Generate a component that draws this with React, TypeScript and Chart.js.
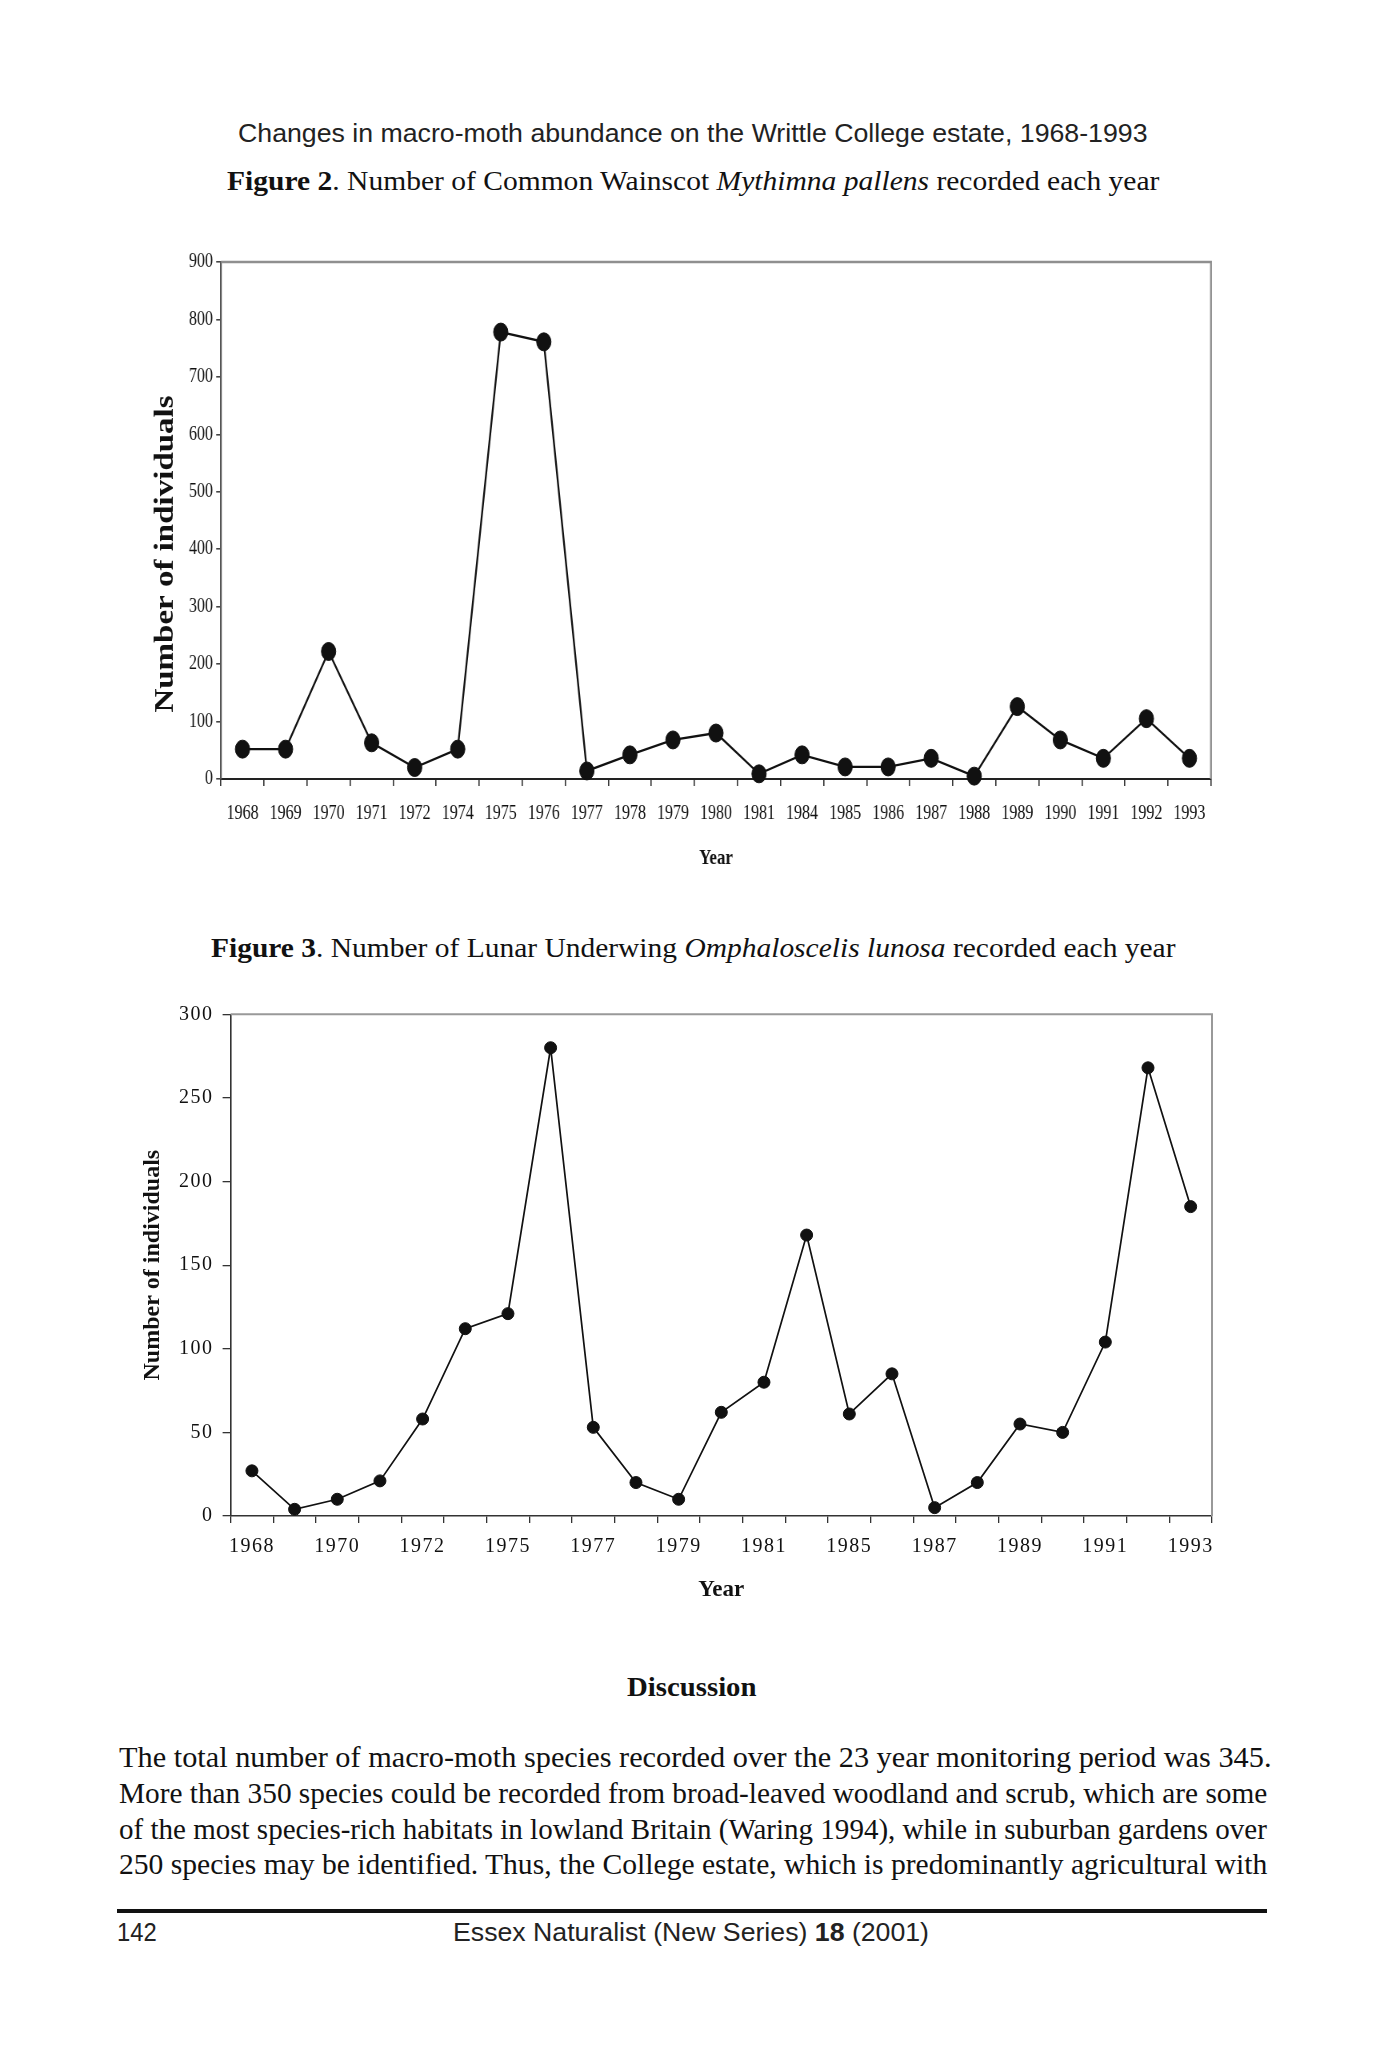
import React, { useEffect, useLayoutEffect, useRef, useState } from 'react';
import { Chart, registerables } from 'chart.js';

Chart.register(...registerables);

// ---------- data ----------
const fig2Years = ['1968', '1969', '1970', '1971', '1972', '1974', '1975', '1976', '1977', '1978', '1979', '1980', '1981', '1984', '1985', '1986', '1987', '1988', '1989', '1990', '1991', '1992', '1993'];
const fig2Counts = [52, 52, 222, 63, 20, 52, 778, 761, 14, 42, 68, 80, 9, 42, 21, 21, 36, 5, 126, 68, 36, 105, 36];
const fig2YMin = 0;
const fig2YMax = 900;
const fig2YStep = 100;

const fig3Years = ['1968', '1969', '1970', '1971', '1972', '1974', '1975', '1976', '1977', '1978', '1979', '1980', '1981', '1984', '1985', '1986', '1987', '1988', '1989', '1990', '1991', '1992', '1993'];
const fig3Counts = [27, 4, 10, 21, 58, 112, 121, 280, 53, 20, 10, 62, 80, 168, 61, 85, 5, 20, 55, 50, 104, 268, 185];
const fig3ShownYears = ['1968', '1970', '1972', '1975', '1977', '1979', '1981', '1985', '1987', '1989', '1991', '1993'];
const fig3YMin = 0;
const fig3YMax = 300;
const fig3YStep = 50;

const paragraphLines = [
  'The total number of macro-moth species recorded over the 23 year monitoring period was 345.',
  'More than 350 species could be recorded from broad-leaved woodland and scrub, which are some',
  'of the most species-rich habitats in lowland Britain (Waring 1994), while in suburban gardens over',
  '250 species may be identified. Thus, the College estate, which is predominantly agricultural with',
];

const SERIF = '"Liberation Serif", "Times New Roman", serif';
const SANS = '"Liberation Sans", Arial, sans-serif';

// ---------- plugins ----------
const framePlugin = {
  id: 'frame',
  beforeDatasetsDraw(chart: any, _args: any, opts: any) {
    const { ctx, chartArea } = chart;
    const { left, top, right, bottom } = chartArea;
    ctx.save();
    ctx.strokeStyle = opts.color || '#999';
    ctx.lineWidth = opts.width || 2;
    ctx.beginPath();
    ctx.moveTo(left, top);
    ctx.lineTo(right, top);
    ctx.lineTo(right, bottom);
    ctx.stroke();
    ctx.restore();
  },
};

const vTitlePlugin = {
  id: 'vtitle',
  afterDraw(chart: any, _args: any, opts: any) {
    if (!opts || !opts.text) return;
    const ctx = chart.ctx;
    ctx.save();
    ctx.translate(opts.x, opts.y);
    ctx.rotate(-Math.PI / 2);
    ctx.font = opts.font;
    ctx.fillStyle = opts.color || '#111';
    ctx.textAlign = 'center';
    ctx.textBaseline = 'middle';
    ctx.fillText(opts.text, 0, 0);
    ctx.restore();
  },
};

const spacingPlugin = {
  id: 'spacing',
  beforeDraw(chart: any) {
    (chart.ctx as any).letterSpacing = '0px';
  },
  afterDatasetsDraw(chart: any, _args: any, opts: any) {
    (chart.ctx as any).letterSpacing = (opts && opts.value) || '0px';
  },
  afterDraw(chart: any) {
    (chart.ctx as any).letterSpacing = '0px';
  },
};

// ---------- chart configs ----------
function fig2Config(): any {
  return {
    type: 'line',
    data: {
      labels: fig2Years,
      datasets: [
        {
          data: fig2Counts,
          borderColor: '#111',
          backgroundColor: '#111',
          borderWidth: 2.3,
          pointRadius: 9,
          pointBorderWidth: 1,
          pointBackgroundColor: '#111',
          pointBorderColor: '#111',
          tension: 0,
          clip: false,
        },
      ],
    },
    options: {
      responsive: false,
      animation: false,
      devicePixelRatio: 1,
      layout: { padding: { left: 0, top: 32, right: 31.25, bottom: 0 } },
      plugins: {
        legend: { display: false },
        tooltip: { enabled: false },
        frame: { color: '#8f8f8f', width: 2.4 },
        vtitle: { text: 'Number of individuals', x: 82.5, y: 324, font: `bold 33px ${SERIF}`, color: '#111' },
      },
      scales: {
        x: {
          type: 'category',
          offset: true,
          grid: { offset: true, drawOnChartArea: false, drawTicks: true, tickLength: 7, color: '#333', lineWidth: 1.6 },
          border: { display: true, color: '#222', width: 2 },
          ticks: { autoSkip: false, maxRotation: 0, minRotation: 0, padding: 16, color: '#111', font: { family: SERIF, size: 20 } },
          title: { display: true, text: 'Year', color: '#111', font: { family: SERIF, size: 21, weight: 'bold' }, padding: { top: 0, bottom: 18.7 } },
          afterFit(s: any) { s.height = 111; },
        },
        y: {
          min: fig2YMin,
          max: fig2YMax,
          grid: { drawOnChartArea: false, drawTicks: true, tickLength: 6, color: '#444', lineWidth: 1.6 },
          border: { display: true, color: '#555', width: 2.2 },
          ticks: { stepSize: fig2YStep, padding: 4, color: '#111', font: { family: SERIF, size: 20 } },
          afterFit(s: any) { s.width = 151.25; },
        },
      },
    },
    plugins: [framePlugin, vTitlePlugin],
  };
}

function fig3Config(): any {
  return {
    type: 'line',
    data: {
      labels: fig3Years,
      datasets: [
        {
          data: fig3Counts,
          borderColor: '#111',
          backgroundColor: '#111',
          borderWidth: 1.7,
          pointRadius: 6,
          pointBorderWidth: 1,
          pointBackgroundColor: '#111',
          pointBorderColor: '#111',
          tension: 0,
          clip: false,
        },
      ],
    },
    options: {
      responsive: false,
      animation: false,
      devicePixelRatio: 1,
      layout: { padding: { left: 0, top: 34.3, right: 28, bottom: 0 } },
      plugins: {
        legend: { display: false },
        tooltip: { enabled: false },
        frame: { color: '#999', width: 2 },
        spacing: { value: '1.5px' },
      },
      scales: {
        x: {
          type: 'category',
          offset: true,
          grid: { offset: true, drawOnChartArea: false, drawTicks: true, tickLength: 7, color: '#333', lineWidth: 1.3 },
          border: { display: true, color: '#333', width: 1.6 },
          ticks: {
            z: 1,
            autoSkip: false,
            maxRotation: 0,
            minRotation: 0,
            padding: 12,
            color: '#111',
            font: { family: SERIF, size: 20 },
            callback: (_v: any, i: number) => (fig3ShownYears.includes(fig3Years[i]) ? fig3Years[i] : ''),
          },
          title: { display: true, text: 'Year', color: '#111', font: { family: SERIF, size: 23, weight: 'bold' }, padding: { top: 0, bottom: 25.9 } },
          afterFit(s: any) { s.height = 114; },
        },
        y: {
          min: fig3YMin,
          max: fig3YMax,
          grid: { drawOnChartArea: false, drawTicks: true, tickLength: 8, color: '#333', lineWidth: 1.3 },
          border: { display: true, color: '#333', width: 1.6 },
          ticks: { z: 1, stepSize: fig3YStep, padding: 9, color: '#111', font: { family: SERIF, size: 20 } },
          title: { display: true, text: 'Number of individuals', color: '#111', font: { family: SERIF, size: 24, weight: 'bold' }, padding: { top: 38.6, bottom: 0 } },
          afterFit(s: any) { s.width = 130.6; },
        },
      },
    },
    plugins: [framePlugin, spacingPlugin],
  };
}

// ---------- components ----------
function ChartCanvas({ make, width, height }: { make: () => any; width: number; height: number }) {
  const ref = useRef<HTMLCanvasElement>(null);
  useEffect(() => {
    if (!ref.current) return;
    const chart = new Chart(ref.current, make());
    return () => chart.destroy();
  }, []);
  return <canvas ref={ref} width={width} height={height} style={{ display: 'block', width, height }} />;
}

function FitText({ left, right, cy, style, children }: { left: number; right: number; cy: number; style?: any; children: any }) {
  const ref = useRef<HTMLDivElement>(null);
  const [k, setK] = useState(1);
  useLayoutEffect(() => {
    const el = ref.current;
    if (!el) return;
    const w = el.offsetWidth;
    if (w > 0) setK((right - left) / w);
  }, [left, right]);
  return (
    <div
      ref={ref}
      style={{
        position: 'absolute',
        left,
        top: cy,
        whiteSpace: 'nowrap',
        lineHeight: 1,
        color: '#111',
        transformOrigin: '0 0',
        transform: `translateY(-50%) scaleX(${k})`,
        ...style,
      }}
    >
      {children}
    </div>
  );
}

export default function App() {
  const lineYs = [1757, 1793, 1828.5, 1864];
  return (
    <div style={{ position: 'absolute', left: 0, top: 0, width: 1400, height: 2067, background: '#fff', overflow: 'hidden' }}>
      <FitText left={238} right={1148} cy={133} style={{ fontFamily: SANS, fontSize: 26, color: '#222' }}>
        Changes in macro-moth abundance on the Writtle College estate, 1968-1993
      </FitText>
      <FitText left={227} right={1159} cy={181} style={{ fontFamily: SERIF, fontSize: 27 }}>
        <b>Figure 2</b>. Number of Common Wainscot <i>Mythimna pallens</i> recorded each year
      </FitText>

      <div style={{ position: 'absolute', left: 100, top: 230, width: 1420, height: 660, transform: 'scaleX(0.8)', transformOrigin: '0 0' }}>
        <ChartCanvas make={fig2Config} width={1420} height={660} />
      </div>

      <FitText left={211} right={1176} cy={948} style={{ fontFamily: SERIF, fontSize: 27 }}>
        <b>Figure 3</b>. Number of Lunar Underwing <i>Omphaloscelis lunosa</i> recorded each year
      </FitText>

      <div style={{ position: 'absolute', left: 100, top: 980, width: 1140, height: 650 }}>
        <ChartCanvas make={fig3Config} width={1140} height={650} />
      </div>

      <FitText left={627} right={757} cy={1687} style={{ fontFamily: SERIF, fontSize: 27, fontWeight: 'bold' }}>
        Discussion
      </FitText>

      {paragraphLines.map((t, i) => (
        <FitText key={i} left={119} right={i === 0 ? 1271 : 1267} cy={lineYs[i]} style={{ fontFamily: SERIF, fontSize: 29 }}>
          {t}
        </FitText>
      ))}

      <div style={{ position: 'absolute', left: 117, top: 1909, width: 1150, height: 3.5, background: '#111' }} />

      <FitText left={117} right={157} cy={1932} style={{ fontFamily: SANS, fontSize: 25, color: '#222' }}>
        142
      </FitText>
      <FitText left={453} right={929} cy={1932} style={{ fontFamily: SANS, fontSize: 25, color: '#222' }}>
        Essex Naturalist (New Series) <b>18</b> (2001)
      </FitText>
    </div>
  );
}
